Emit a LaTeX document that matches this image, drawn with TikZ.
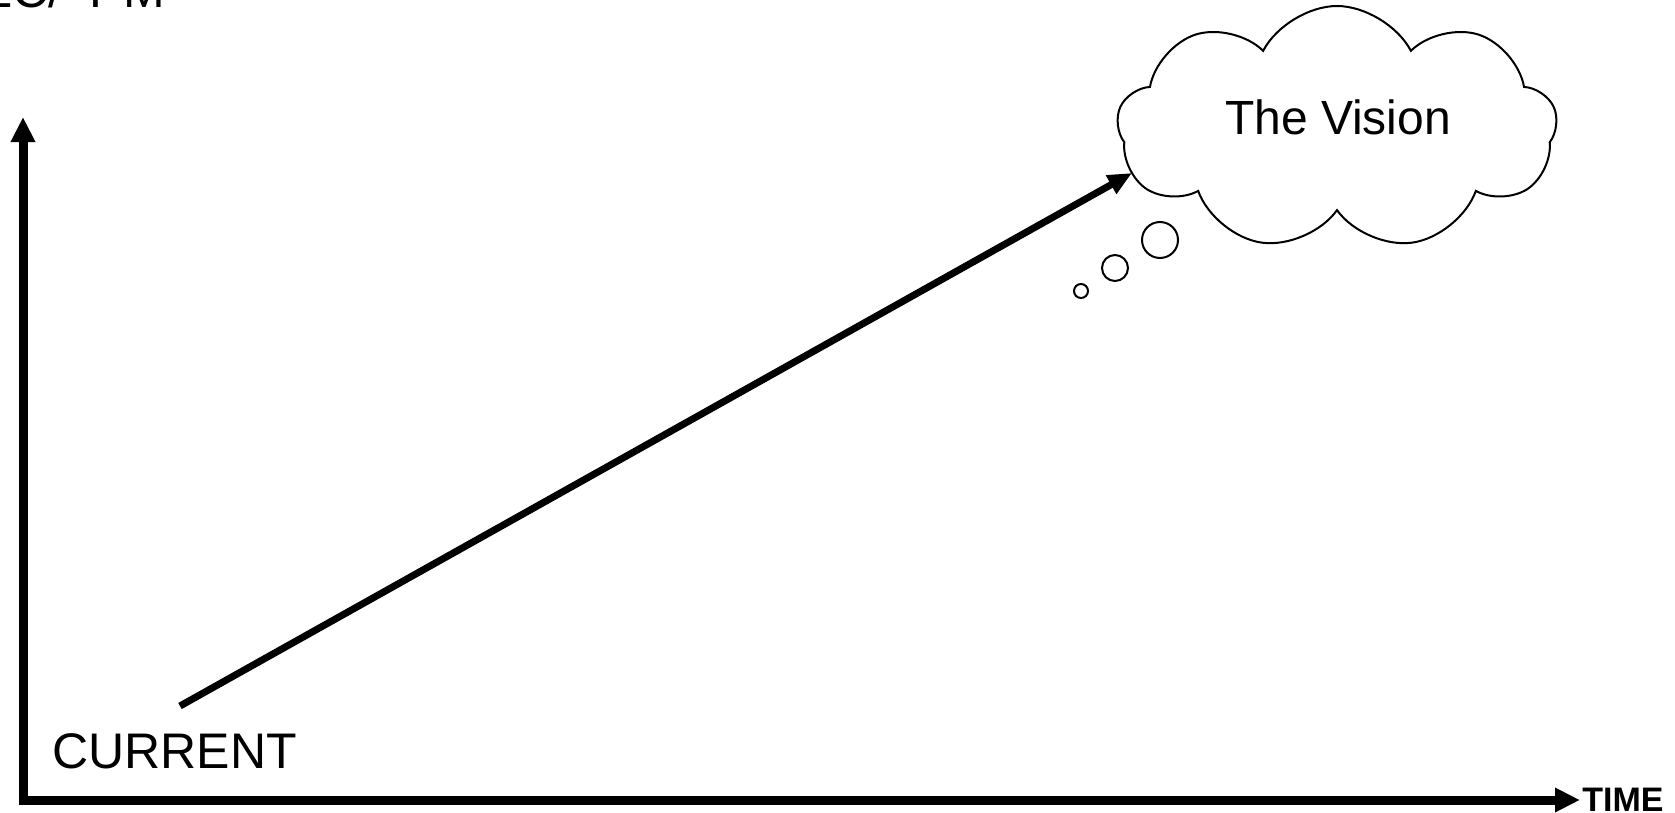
\documentclass[tikz,border=0pt]{standalone}
\usepackage{fontspec}
\setmainfont{Liberation Sans}
\usetikzlibrary{arrows.meta,shapes.symbols}

\tikzset{
  axis/.style={line width=4.5pt, line join=miter,
    {Triangle[width=11.5pt,length=12.5pt]}-{Triangle[width=11.5pt,length=12.5pt]}},
  path arrow/.style={line width=3.5pt, -{Triangle[width=10pt,length=12pt]}},
  thought/.style={draw, line width=1pt, cloud, cloud puffs=9, cloud puff arc=125,
    cloud ignores aspect, minimum width=220pt, minimum height=122pt, inner sep=0pt},
  bubble/.style={draw, line width=1pt, circle, inner sep=0pt}
}

\begin{document}
\begin{tikzpicture}[x=0.5pt, y=-0.5pt]

	\useasboundingbox (0,0) rectangle (1675,813);

	% cut-off title at the top
	\node[anchor=base west, inner sep=0pt, font=\fontsize{25pt}{30pt}\selectfont] (title) at (-16,8) {LC/~~PM};

	% axes
	\coordinate (origin) at (23,800);
	\coordinate (ytop) at (23,117);
	\node[anchor=west, inner sep=1pt, font=\bfseries\fontsize{17pt}{20pt}\selectfont] (time) at (1580,800) {TIME};
	\draw[axis] (ytop) -- (origin) -- (time.west);

	% current state
	\node[anchor=base west, inner sep=0pt, font=\fontsize{25pt}{30pt}\selectfont] (current) at (52,768) {CURRENT};

	% thought cloud
	\node[thought] (vision) at (1337,128) {};
	\node[font=\fontsize{24pt}{28pt}\selectfont] (visiontext) at (1338,117) {The Vision};
	\node[bubble, minimum size=18pt] (bubble1) at (1160,240) {};
	\node[bubble, minimum size=13pt] (bubble2) at (1115,268) {};
	\node[bubble, minimum size=7pt] (bubble3) at (1081,291) {};

	% path towards the vision
	\coordinate (start) at (180,706);
	\coordinate (goal) at (1132,173);
	\draw[path arrow] (start) -- (goal);

\end{tikzpicture}
\end{document}
